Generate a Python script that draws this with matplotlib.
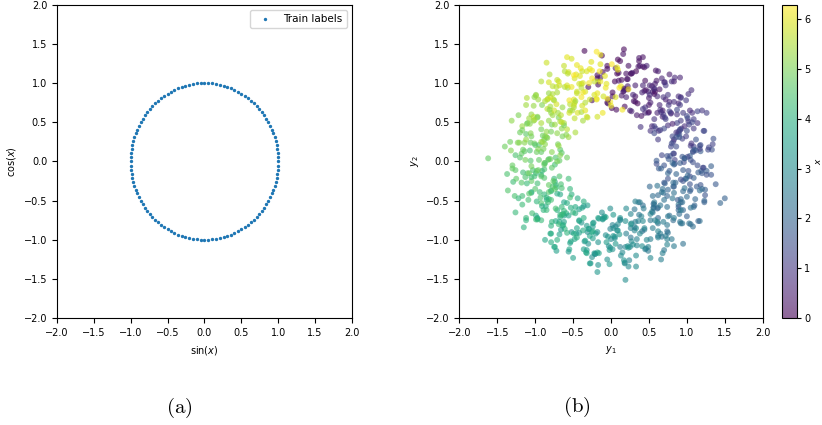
"""
Train labels on the unit circle and noisy samples coloured by x.
"""

import matplotlib
matplotlib.use('Agg')
import matplotlib.pyplot as plt
import numpy as np

# (a) training inputs, in degrees, evenly spaced round the circle
train_x_deg = [
    0, 3, 6, 9, 12, 15, 18, 21, 24, 27, 30, 33, 36, 39, 42, 45, 48, 51, 54, 57,
    60, 63, 66, 69, 72, 75, 78, 81, 84, 87, 90, 93, 96, 99, 102, 105, 108, 111, 114, 117,
    120, 123, 126, 129, 132, 135, 138, 141, 144, 147, 150, 153, 156, 159, 162, 165, 168, 171, 174, 177,
    180, 183, 186, 189, 192, 195, 198, 201, 204, 207, 210, 213, 216, 219, 222, 225, 228, 231, 234, 237,
    240, 243, 246, 249, 252, 255, 258, 261, 264, 267, 270, 273, 276, 279, 282, 285, 288, 291, 294, 297,
    300, 303, 306, 309, 312, 315, 318, 321, 324, 327, 330, 333, 336, 339, 342, 345, 348, 351, 354, 357,
]

# (b) samples: y1, y2 and the x used for colour
y1_a = [
    0.05, -0.18, 0.22, -0.05, 0.12, -0.30, 0.33, 0.02, -0.12, 0.18, -0.25, 0.08,
    0.14, 0.32, -0.05, 0.45, 0.07, 0.23, -0.18, 0.37, 0.17, 0.02, 0.57, 0.10,
    0.44, 0.26, 0.59, 0.14, 0.37, 0.50, 0.06, 0.32, 0.64, 0.22, 0.40, -0.04,
    0.55, 0.32, 0.72, 0.45, 0.62, 0.20, 0.83, 0.52, 0.38, 0.68, 0.25, 0.58,
    0.61, 0.79, 0.42, 0.92, 0.54, 0.70, 0.29, 0.84, 0.64, 0.49, 1.04, 0.57,
    0.87, 0.69, 1.02, 0.57, 0.80, 0.93, 0.49, 0.75, 1.07, 0.65, 0.83, 0.39,
    0.92, 0.69, 1.09, 0.82, 0.99, 0.57, 1.20, 0.89, 0.75, 1.05, 0.62, 0.95,
    0.91, 1.09, 0.72, 1.22, 0.84, 1.00, 0.59, 1.14, 0.94, 0.79, 1.34, 0.87,
    1.08, 0.90, 1.23, 0.78, 1.01, 1.14, 0.70, 0.96, 1.28, 0.86, 1.04, 0.60,
    1.05, 0.82, 1.22, 0.95, 1.12, 0.70, 1.33, 1.02, 0.88, 1.18, 0.75, 1.08,
    0.95, 1.13, 0.76, 1.26, 0.88, 1.04, 0.63, 1.18, 0.98, 0.83, 1.38, 0.91,
    1.04, 0.86, 1.19, 0.74, 0.97, 1.10, 0.66, 0.92, 1.24, 0.82, 1.00, 0.56,
    0.92, 0.69, 1.09, 0.82, 0.99, 0.57, 1.20, 0.89, 0.75, 1.05, 0.62, 0.95,
    0.74, 0.92, 0.55, 1.05, 0.67, 0.83, 0.42, 0.97, 0.77, 0.62, 1.17, 0.70,
    0.74, 0.56, 0.89, 0.44, 0.67, 0.80, 0.36, 0.62, 0.94, 0.52, 0.70, 0.26,
    0.55, 0.32, 0.72, 0.45, 0.62, 0.20, 0.83, 0.52, 0.38, 0.68, 0.25, 0.58,
    0.31, 0.49, 0.12, 0.62, 0.24, 0.40, -0.01, 0.54, 0.34, 0.19, 0.74, 0.27,
    0.27, 0.09, 0.42, -0.03, 0.20, 0.33, -0.11, 0.15, 0.47, 0.05, 0.23, -0.21,
    0.05, -0.18, 0.22, -0.05, 0.12, -0.30, 0.33, 0.02, -0.12, 0.18, -0.25, 0.08,
    -0.20, -0.02, -0.39, 0.11, -0.27, -0.11, -0.52, 0.03, -0.17, -0.32, 0.23, -0.24,
    -0.24, -0.42, -0.09, -0.54, -0.31, -0.18, -0.62, -0.36, -0.04, -0.46, -0.28, -0.72,
    -0.45, -0.68, -0.28, -0.55, -0.38, -0.80, -0.17, -0.48, -0.62, -0.32, -0.75, -0.42,
    -0.67, -0.49, -0.86, -0.36, -0.74, -0.58, -0.99, -0.44, -0.64, -0.79, -0.24, -0.71,
    -0.67, -0.85, -0.52, -0.97, -0.74, -0.61, -1.05, -0.79, -0.47, -0.89, -0.71, -1.15,
    -0.82, -1.05, -0.65, -0.92, -0.75, -1.17, -0.54, -0.85, -0.99, -0.69, -1.12, -0.79,
    -0.97, -0.79, -1.16, -0.66, -1.04, -0.88, -1.29, -0.74, -0.94, -1.09, -0.54, -1.01,
    -0.88, -1.06, -0.73, -1.18, -0.95, -0.82, -1.26, -1.00, -0.68, -1.10, -0.92, -1.36,
    -0.95, -1.18, -0.78, -1.05, -0.88, -1.30, -0.67, -0.98, -1.12, -0.82, -1.25, -0.92,
    -1.01, -0.83, -1.20, -0.70, -1.08, -0.92, -1.33, -0.78, -0.98, -1.13, -0.58, -1.05,
    -0.84, -1.02, -0.69, -1.14, -0.91, -0.78, -1.22, -0.96, -0.64, -1.06, -0.88, -1.32,
    -0.82, -1.05, -0.65, -0.92, -0.75, -1.17, -0.54, -0.85, -0.99, -0.69, -1.12, -0.79,
    -0.80, -0.62, -0.99, -0.49, -0.87, -0.71, -1.12, -0.57, -0.77, -0.92, -0.37, -0.84,
    -0.54, -0.72, -0.39, -0.84, -0.61, -0.48, -0.92, -0.66, -0.34, -0.76, -0.58, -1.02,
    -0.45, -0.68, -0.28, -0.55, -0.38, -0.80, -0.17, -0.48, -0.62, -0.32, -0.75, -0.42,
    -0.37, -0.19, -0.56, -0.06, -0.44, -0.28, -0.69, -0.14, -0.34, -0.49, 0.06, -0.41,
    -0.07, -0.25, 0.08, -0.37, -0.14, -0.01, -0.45, -0.19, 0.13, -0.29, -0.11, -0.55,
    -1.62, 0.19, -0.18, 1.50, 1.44, 0.17, 0.42, -0.35, -0.58, -0.85, -1.26, 0.91,
]
y2_a = [
    1.02, 1.10, 0.92, 0.75, 1.28, 0.95, 1.15, 0.88, 1.35, 0.70, 0.78, 1.12,
    1.04, 0.83, 1.18, 1.03, 0.66, 1.22, 1.06, 1.28, 0.93, 0.83, 0.86, 1.13,
    0.90, 1.12, 1.16, 0.84, 1.32, 0.72, 1.19, 0.76, 0.92, 0.96, 0.58, 0.74,
    0.89, 0.97, 0.79, 0.62, 1.15, 0.82, 1.02, 0.75, 1.22, 0.57, 0.65, 0.99,
    0.83, 0.62, 0.97, 0.82, 0.45, 1.01, 0.85, 1.07, 0.72, 0.62, 0.65, 0.92,
    0.60, 0.82, 0.86, 0.54, 1.02, 0.42, 0.89, 0.46, 0.62, 0.66, 0.28, 0.44,
    0.52, 0.60, 0.42, 0.25, 0.78, 0.45, 0.65, 0.38, 0.85, 0.20, 0.28, 0.62,
    0.40, 0.19, 0.54, 0.39, 0.02, 0.58, 0.42, 0.64, 0.29, 0.19, 0.22, 0.49,
    0.13, 0.35, 0.39, 0.07, 0.55, -0.05, 0.42, -0.01, 0.15, 0.19, -0.19, -0.03,
    0.02, 0.10, -0.08, -0.25, 0.28, -0.05, 0.15, -0.12, 0.35, -0.30, -0.22, 0.12,
    -0.11, -0.32, 0.03, -0.12, -0.49, 0.07, -0.09, 0.13, -0.22, -0.32, -0.29, -0.02,
    -0.38, -0.16, -0.12, -0.44, 0.04, -0.56, -0.09, -0.52, -0.36, -0.32, -0.70, -0.54,
    -0.48, -0.40, -0.58, -0.75, -0.22, -0.55, -0.35, -0.62, -0.15, -0.80, -0.72, -0.38,
    -0.58, -0.79, -0.44, -0.59, -0.96, -0.40, -0.56, -0.34, -0.69, -0.79, -0.76, -0.49,
    -0.81, -0.59, -0.55, -0.87, -0.39, -0.99, -0.52, -0.95, -0.79, -0.75, -1.13, -0.97,
    -0.85, -0.77, -0.95, -1.12, -0.59, -0.92, -0.72, -0.99, -0.52, -1.17, -1.09, -0.75,
    -0.88, -1.09, -0.74, -0.89, -1.26, -0.70, -0.86, -0.64, -0.99, -1.09, -1.06, -0.79,
    -1.02, -0.80, -0.76, -1.08, -0.60, -1.20, -0.73, -1.16, -1.00, -0.96, -1.34, -1.18,
    -0.98, -0.90, -1.08, -1.25, -0.72, -1.05, -0.85, -1.12, -0.65, -1.30, -1.22, -0.88,
    -0.92, -1.13, -0.78, -0.93, -1.30, -0.74, -0.90, -0.68, -1.03, -1.13, -1.10, -0.83,
    -0.98, -0.76, -0.72, -1.04, -0.56, -1.16, -0.69, -1.12, -0.96, -0.92, -1.30, -1.14,
    -0.85, -0.77, -0.95, -1.12, -0.59, -0.92, -0.72, -0.99, -0.52, -1.17, -1.09, -0.75,
    -0.71, -0.92, -0.57, -0.72, -1.09, -0.53, -0.69, -0.47, -0.82, -0.92, -0.89, -0.62,
    -0.68, -0.46, -0.42, -0.74, -0.26, -0.86, -0.39, -0.82, -0.66, -0.62, -1.00, -0.84,
    -0.48, -0.40, -0.58, -0.75, -0.22, -0.55, -0.35, -0.62, -0.15, -0.80, -0.72, -0.38,
    -0.28, -0.49, -0.14, -0.29, -0.66, -0.10, -0.26, -0.04, -0.39, -0.49, -0.46, -0.19,
    -0.21, 0.01, 0.05, -0.27, 0.21, -0.39, 0.08, -0.35, -0.19, -0.15, -0.53, -0.37,
    0.02, 0.10, -0.08, -0.25, 0.28, -0.05, 0.15, -0.12, 0.35, -0.30, -0.22, 0.12,
    0.23, 0.02, 0.37, 0.22, -0.15, 0.41, 0.25, 0.47, 0.12, 0.02, 0.05, 0.32,
    0.30, 0.52, 0.56, 0.24, 0.72, 0.12, 0.59, 0.16, 0.32, 0.36, -0.02, 0.14,
    0.52, 0.60, 0.42, 0.25, 0.78, 0.45, 0.65, 0.38, 0.85, 0.20, 0.28, 0.62,
    0.70, 0.49, 0.84, 0.69, 0.32, 0.88, 0.72, 0.94, 0.59, 0.49, 0.52, 0.79,
    0.73, 0.95, 0.99, 0.67, 1.15, 0.55, 1.02, 0.59, 0.75, 0.79, 0.41, 0.57,
    0.89, 0.97, 0.79, 0.62, 1.15, 0.82, 1.02, 0.75, 1.22, 0.57, 0.65, 0.99,
    1.00, 0.79, 1.14, 0.99, 0.62, 1.18, 1.02, 1.24, 0.89, 0.79, 0.82, 1.09,
    0.94, 1.16, 1.20, 0.88, 1.36, 0.76, 1.23, 0.80, 0.96, 1.00, 0.62, 0.78,
    0.04, -1.51, -1.41, -0.47, -0.53, 1.43, 1.33, 1.41, 1.33, 1.26, -0.65, 1.07,
]
x_a = [
    0.06, 0.09, 0.02, 0.11, 0.04, 0.12, 0.01, 0.07, 0.00, 0.10, 0.05, 0.08,
    0.17, 0.20, 0.13, 0.22, 0.15, 0.23, 0.12, 0.18, 0.11, 0.21, 0.16, 0.19,
    0.35, 0.38, 0.31, 0.40, 0.33, 0.41, 0.30, 0.36, 0.29, 0.39, 0.34, 0.37,
    0.52, 0.55, 0.48, 0.57, 0.50, 0.58, 0.47, 0.53, 0.46, 0.56, 0.51, 0.54,
    0.70, 0.73, 0.66, 0.75, 0.68, 0.76, 0.65, 0.71, 0.64, 0.74, 0.69, 0.72,
    0.87, 0.90, 0.83, 0.92, 0.85, 0.93, 0.82, 0.88, 0.81, 0.91, 0.86, 0.89,
    1.05, 1.08, 1.01, 1.10, 1.03, 1.11, 1.00, 1.06, 0.99, 1.09, 1.04, 1.07,
    1.22, 1.25, 1.18, 1.27, 1.20, 1.28, 1.17, 1.23, 1.16, 1.26, 1.21, 1.24,
    1.40, 1.43, 1.36, 1.45, 1.38, 1.46, 1.35, 1.41, 1.34, 1.44, 1.39, 1.42,
    1.57, 1.60, 1.53, 1.62, 1.55, 1.63, 1.52, 1.58, 1.51, 1.61, 1.56, 1.59,
    1.75, 1.78, 1.71, 1.80, 1.73, 1.81, 1.70, 1.76, 1.69, 1.79, 1.74, 1.77,
    1.92, 1.95, 1.88, 1.97, 1.90, 1.98, 1.87, 1.93, 1.86, 1.96, 1.91, 1.94,
    2.09, 2.12, 2.05, 2.14, 2.07, 2.15, 2.04, 2.10, 2.03, 2.13, 2.08, 2.11,
    2.27, 2.30, 2.23, 2.32, 2.25, 2.33, 2.22, 2.28, 2.21, 2.31, 2.26, 2.29,
    2.44, 2.47, 2.40, 2.49, 2.42, 2.50, 2.39, 2.45, 2.38, 2.48, 2.43, 2.46,
    2.62, 2.65, 2.58, 2.67, 2.60, 2.68, 2.57, 2.63, 2.56, 2.66, 2.61, 2.64,
    2.79, 2.82, 2.75, 2.84, 2.77, 2.85, 2.74, 2.80, 2.73, 2.83, 2.78, 2.81,
    2.97, 3.00, 2.93, 3.02, 2.95, 3.03, 2.92, 2.98, 2.91, 3.01, 2.96, 2.99,
    3.14, 3.17, 3.10, 3.19, 3.12, 3.20, 3.09, 3.15, 3.08, 3.18, 3.13, 3.16,
    3.32, 3.35, 3.28, 3.37, 3.30, 3.38, 3.27, 3.33, 3.26, 3.36, 3.31, 3.34,
    3.49, 3.52, 3.45, 3.54, 3.47, 3.55, 3.44, 3.50, 3.43, 3.53, 3.48, 3.51,
    3.67, 3.70, 3.63, 3.72, 3.65, 3.73, 3.62, 3.68, 3.61, 3.71, 3.66, 3.69,
    3.84, 3.87, 3.80, 3.89, 3.82, 3.90, 3.79, 3.85, 3.78, 3.88, 3.83, 3.86,
    4.01, 4.04, 3.97, 4.06, 3.99, 4.07, 3.96, 4.02, 3.95, 4.05, 4.00, 4.03,
    4.19, 4.22, 4.15, 4.24, 4.17, 4.25, 4.14, 4.20, 4.13, 4.23, 4.18, 4.21,
    4.36, 4.39, 4.32, 4.41, 4.34, 4.42, 4.31, 4.37, 4.30, 4.40, 4.35, 4.38,
    4.54, 4.57, 4.50, 4.59, 4.52, 4.60, 4.49, 4.55, 4.48, 4.58, 4.53, 4.56,
    4.71, 4.74, 4.67, 4.76, 4.69, 4.77, 4.66, 4.72, 4.65, 4.75, 4.70, 4.73,
    4.89, 4.92, 4.85, 4.94, 4.87, 4.95, 4.84, 4.90, 4.83, 4.93, 4.88, 4.91,
    5.06, 5.09, 5.02, 5.11, 5.04, 5.12, 5.01, 5.07, 5.00, 5.10, 5.05, 5.08,
    5.24, 5.27, 5.20, 5.29, 5.22, 5.30, 5.19, 5.25, 5.18, 5.28, 5.23, 5.26,
    5.41, 5.44, 5.37, 5.46, 5.39, 5.47, 5.36, 5.42, 5.35, 5.45, 5.40, 5.43,
    5.59, 5.62, 5.55, 5.64, 5.57, 5.65, 5.54, 5.60, 5.53, 5.63, 5.58, 5.61,
    5.76, 5.79, 5.72, 5.81, 5.74, 5.82, 5.71, 5.77, 5.70, 5.80, 5.75, 5.78,
    5.93, 5.96, 5.89, 5.98, 5.91, 5.99, 5.88, 5.94, 5.87, 5.97, 5.92, 5.95,
    6.11, 6.14, 6.07, 6.16, 6.09, 6.17, 6.06, 6.12, 6.05, 6.15, 6.10, 6.13,
    4.75, 3.05, 3.30, 1.90, 1.95, 0.10, 0.25, 0.05, 6.00, 5.75, 4.20, 0.60,
]

# second batch of samples, between the first ones
y1_b = [
    0.17, -0.05, 0.27, -0.17, 0.09, 0.35, 0.01, 0.21, -0.11, 0.44,
    0.20, 0.46, -0.04, 0.36, 0.50, 0.10, 0.30, -0.14, 0.58, 0.16,
    0.50, 0.28, 0.60, 0.16, 0.42, 0.68, 0.34, 0.54, 0.22, 0.77,
    0.51, 0.77, 0.27, 0.67, 0.81, 0.41, 0.61, 0.17, 0.89, 0.47,
    0.79, 0.57, 0.89, 0.45, 0.71, 0.97, 0.63, 0.83, 0.51, 1.06,
    0.76, 1.02, 0.52, 0.92, 1.06, 0.66, 0.86, 0.42, 1.14, 0.72,
    0.99, 0.77, 1.09, 0.65, 0.91, 1.17, 0.83, 1.03, 0.71, 1.26,
    0.91, 1.17, 0.67, 1.07, 1.21, 0.81, 1.01, 0.57, 1.29, 0.87,
    1.08, 0.86, 1.18, 0.74, 1.00, 1.26, 0.92, 1.12, 0.80, 1.35,
    0.94, 1.20, 0.70, 1.10, 1.24, 0.84, 1.04, 0.60, 1.32, 0.90,
    1.05, 0.83, 1.15, 0.71, 0.97, 1.23, 0.89, 1.09, 0.77, 1.32,
    0.85, 1.11, 0.61, 1.01, 1.15, 0.75, 0.95, 0.51, 1.23, 0.81,
    0.90, 0.68, 1.00, 0.56, 0.82, 1.08, 0.74, 0.94, 0.62, 1.17,
    0.65, 0.91, 0.41, 0.81, 0.95, 0.55, 0.75, 0.31, 1.03, 0.61,
    0.65, 0.43, 0.75, 0.31, 0.57, 0.83, 0.49, 0.69, 0.37, 0.92,
    0.36, 0.62, 0.12, 0.52, 0.66, 0.26, 0.46, 0.02, 0.74, 0.32,
    0.34, 0.12, 0.44, 0.00, 0.26, 0.52, 0.18, 0.38, 0.06, 0.61,
    0.03, 0.29, -0.21, 0.19, 0.33, -0.07, 0.13, -0.31, 0.41, -0.01,
    -0.01, -0.23, 0.09, -0.35, -0.09, 0.17, -0.17, 0.03, -0.29, 0.26,
    -0.32, -0.06, -0.56, -0.16, -0.02, -0.42, -0.22, -0.66, 0.06, -0.36,
    -0.34, -0.56, -0.24, -0.68, -0.42, -0.16, -0.50, -0.30, -0.62, -0.07,
    -0.63, -0.37, -0.87, -0.47, -0.33, -0.73, -0.53, -0.97, -0.25, -0.67,
    -0.63, -0.85, -0.53, -0.97, -0.71, -0.45, -0.79, -0.59, -0.91, -0.36,
    -0.88, -0.62, -1.12, -0.72, -0.58, -0.98, -0.78, -1.22, -0.50, -0.92,
    -0.83, -1.05, -0.73, -1.17, -0.91, -0.65, -0.99, -0.79, -1.11, -0.56,
    -1.03, -0.77, -1.27, -0.87, -0.73, -1.13, -0.93, -1.37, -0.65, -1.07,
    -0.92, -1.14, -0.82, -1.26, -1.00, -0.74, -1.08, -0.88, -1.20, -0.65,
    -1.06, -0.80, -1.30, -0.90, -0.76, -1.16, -0.96, -1.40, -0.68, -1.10,
    -0.89, -1.11, -0.79, -1.23, -0.97, -0.71, -1.05, -0.85, -1.17, -0.62,
    -0.97, -0.71, -1.21, -0.81, -0.67, -1.07, -0.87, -1.31, -0.59, -1.01,
    -0.74, -0.96, -0.64, -1.08, -0.82, -0.56, -0.90, -0.70, -1.02, -0.47,
    -0.77, -0.51, -1.01, -0.61, -0.47, -0.87, -0.67, -1.11, -0.39, -0.81,
    -0.49, -0.71, -0.39, -0.83, -0.57, -0.31, -0.65, -0.45, -0.77, -0.22,
    -0.48, -0.22, -0.72, -0.32, -0.18, -0.58, -0.38, -0.82, -0.10, -0.52,
    -0.18, -0.40, -0.08, -0.52, -0.26, 0.00, -0.34, -0.14, -0.46, 0.09,
    -0.15, 0.11, -0.39, 0.01, 0.15, -0.25, -0.05, -0.49, 0.23, -0.19,
]
y2_b = [
    0.90, 1.22, 1.12, 0.98, 1.30, 0.74, 0.68, 1.05, 1.14, 1.20,
    1.12, 0.91, 0.79, 1.21, 0.63, 1.03, 0.77, 1.07, 0.89, 1.37,
    0.81, 1.13, 1.03, 0.89, 1.21, 0.65, 0.59, 0.96, 1.05, 1.11,
    0.97, 0.76, 0.64, 1.06, 0.48, 0.88, 0.62, 0.92, 0.74, 1.22,
    0.61, 0.93, 0.83, 0.69, 1.01, 0.45, 0.39, 0.76, 0.85, 0.91,
    0.72, 0.51, 0.39, 0.81, 0.23, 0.63, 0.37, 0.67, 0.49, 0.97,
    0.32, 0.64, 0.54, 0.40, 0.72, 0.16, 0.10, 0.47, 0.56, 0.62,
    0.41, 0.20, 0.08, 0.50, -0.08, 0.32, 0.06, 0.36, 0.18, 0.66,
    -0.01, 0.31, 0.21, 0.07, 0.39, -0.17, -0.23, 0.14, 0.23, 0.29,
    0.06, -0.15, -0.27, 0.15, -0.43, -0.03, -0.29, 0.01, -0.17, 0.31,
    -0.36, -0.04, -0.14, -0.28, 0.04, -0.52, -0.58, -0.21, -0.12, -0.06,
    -0.27, -0.48, -0.60, -0.18, -0.76, -0.36, -0.62, -0.32, -0.50, -0.02,
    -0.67, -0.35, -0.45, -0.59, -0.27, -0.83, -0.89, -0.52, -0.43, -0.37,
    -0.56, -0.77, -0.89, -0.47, -1.05, -0.65, -0.91, -0.61, -0.79, -0.31,
    -0.92, -0.60, -0.70, -0.84, -0.52, -1.08, -1.14, -0.77, -0.68, -0.62,
    -0.76, -0.97, -1.09, -0.67, -1.25, -0.85, -1.11, -0.81, -0.99, -0.51,
    -1.07, -0.75, -0.85, -0.99, -0.67, -1.23, -1.29, -0.92, -0.83, -0.77,
    -0.85, -1.06, -1.18, -0.76, -1.34, -0.94, -1.20, -0.90, -1.08, -0.60,
    -1.10, -0.78, -0.88, -1.02, -0.70, -1.26, -1.32, -0.95, -0.86, -0.80,
    -0.82, -1.03, -1.15, -0.73, -1.31, -0.91, -1.17, -0.87, -1.05, -0.57,
    -1.01, -0.69, -0.79, -0.93, -0.61, -1.17, -1.23, -0.86, -0.77, -0.71,
    -0.67, -0.88, -1.00, -0.58, -1.16, -0.76, -1.02, -0.72, -0.90, -0.42,
    -0.81, -0.49, -0.59, -0.73, -0.41, -0.97, -1.03, -0.66, -0.57, -0.51,
    -0.42, -0.63, -0.75, -0.33, -0.91, -0.51, -0.77, -0.47, -0.65, -0.17,
    -0.52, -0.20, -0.30, -0.44, -0.12, -0.68, -0.74, -0.37, -0.28, -0.22,
    -0.11, -0.32, -0.44, -0.02, -0.60, -0.20, -0.46, -0.16, -0.34, 0.14,
    -0.19, 0.13, 0.03, -0.11, 0.21, -0.35, -0.41, -0.04, 0.05, 0.11,
    0.24, 0.03, -0.09, 0.33, -0.25, 0.15, -0.11, 0.19, 0.01, 0.49,
    0.16, 0.48, 0.38, 0.24, 0.56, 0.00, -0.06, 0.31, 0.40, 0.46,
    0.57, 0.36, 0.24, 0.66, 0.08, 0.48, 0.22, 0.52, 0.34, 0.82,
    0.47, 0.79, 0.69, 0.55, 0.87, 0.31, 0.25, 0.62, 0.71, 0.77,
    0.86, 0.65, 0.53, 0.95, 0.37, 0.77, 0.51, 0.81, 0.63, 1.11,
    0.72, 1.04, 0.94, 0.80, 1.12, 0.56, 0.50, 0.87, 0.96, 1.02,
    1.06, 0.85, 0.73, 1.15, 0.57, 0.97, 0.71, 1.01, 0.83, 1.31,
    0.87, 1.19, 1.09, 0.95, 1.27, 0.71, 0.65, 1.02, 1.11, 1.17,
    1.15, 0.94, 0.82, 1.24, 0.66, 1.06, 0.80, 1.10, 0.92, 1.40,
]
x_b = [
    0.09, 0.12, 0.06, 0.14, 0.04, 0.11, 0.07, 0.13, 0.05, 0.10,
    0.26, 0.29, 0.23, 0.31, 0.21, 0.28, 0.24, 0.30, 0.22, 0.27,
    0.44, 0.47, 0.41, 0.49, 0.39, 0.46, 0.42, 0.48, 0.40, 0.45,
    0.61, 0.64, 0.58, 0.66, 0.56, 0.63, 0.59, 0.65, 0.57, 0.62,
    0.79, 0.82, 0.76, 0.84, 0.74, 0.81, 0.77, 0.83, 0.75, 0.80,
    0.96, 0.99, 0.93, 1.01, 0.91, 0.98, 0.94, 1.00, 0.92, 0.97,
    1.13, 1.16, 1.10, 1.18, 1.08, 1.15, 1.11, 1.17, 1.09, 1.14,
    1.31, 1.34, 1.28, 1.36, 1.26, 1.33, 1.29, 1.35, 1.27, 1.32,
    1.48, 1.51, 1.45, 1.53, 1.43, 1.50, 1.46, 1.52, 1.44, 1.49,
    1.66, 1.69, 1.63, 1.71, 1.61, 1.68, 1.64, 1.70, 1.62, 1.67,
    1.83, 1.86, 1.80, 1.88, 1.78, 1.85, 1.81, 1.87, 1.79, 1.84,
    2.01, 2.04, 1.98, 2.06, 1.96, 2.03, 1.99, 2.05, 1.97, 2.02,
    2.18, 2.21, 2.15, 2.23, 2.13, 2.20, 2.16, 2.22, 2.14, 2.19,
    2.36, 2.39, 2.33, 2.41, 2.31, 2.38, 2.34, 2.40, 2.32, 2.37,
    2.53, 2.56, 2.50, 2.58, 2.48, 2.55, 2.51, 2.57, 2.49, 2.54,
    2.71, 2.74, 2.68, 2.76, 2.66, 2.73, 2.69, 2.75, 2.67, 2.72,
    2.88, 2.91, 2.85, 2.93, 2.83, 2.90, 2.86, 2.92, 2.84, 2.89,
    3.05, 3.08, 3.02, 3.10, 3.00, 3.07, 3.03, 3.09, 3.01, 3.06,
    3.23, 3.26, 3.20, 3.28, 3.18, 3.25, 3.21, 3.27, 3.19, 3.24,
    3.40, 3.43, 3.37, 3.45, 3.35, 3.42, 3.38, 3.44, 3.36, 3.41,
    3.58, 3.61, 3.55, 3.63, 3.53, 3.60, 3.56, 3.62, 3.54, 3.59,
    3.75, 3.78, 3.72, 3.80, 3.70, 3.77, 3.73, 3.79, 3.71, 3.76,
    3.93, 3.96, 3.90, 3.98, 3.88, 3.95, 3.91, 3.97, 3.89, 3.94,
    4.10, 4.13, 4.07, 4.15, 4.05, 4.12, 4.08, 4.14, 4.06, 4.11,
    4.28, 4.31, 4.25, 4.33, 4.23, 4.30, 4.26, 4.32, 4.24, 4.29,
    4.45, 4.48, 4.42, 4.50, 4.40, 4.47, 4.43, 4.49, 4.41, 4.46,
    4.63, 4.66, 4.60, 4.68, 4.58, 4.65, 4.61, 4.67, 4.59, 4.64,
    4.80, 4.83, 4.77, 4.85, 4.75, 4.82, 4.78, 4.84, 4.76, 4.81,
    4.97, 5.00, 4.94, 5.02, 4.92, 4.99, 4.95, 5.01, 4.93, 4.98,
    5.15, 5.18, 5.12, 5.20, 5.10, 5.17, 5.13, 5.19, 5.11, 5.16,
    5.32, 5.35, 5.29, 5.37, 5.27, 5.34, 5.30, 5.36, 5.28, 5.33,
    5.50, 5.53, 5.47, 5.55, 5.45, 5.52, 5.48, 5.54, 5.46, 5.51,
    5.67, 5.70, 5.64, 5.72, 5.62, 5.69, 5.65, 5.71, 5.63, 5.68,
    5.85, 5.88, 5.82, 5.90, 5.80, 5.87, 5.83, 5.89, 5.81, 5.86,
    6.02, 6.05, 5.99, 6.07, 5.97, 6.04, 6.00, 6.06, 5.98, 6.03,
    6.20, 6.23, 6.17, 6.25, 6.15, 6.22, 6.18, 6.24, 6.16, 6.21,
]

ticks = [-2.0, -1.5, -1.0, -0.5, 0.0, 0.5, 1.0, 1.5, 2.0]

plt.rcParams['font.size'] = 7
plt.rcParams['mathtext.fontset'] = 'dejavusans'

fig = plt.figure(figsize=(8.22, 4.25), dpi=100)
ax1 = fig.add_axes([0.0693, 0.2511, 0.3589, 0.738])
ax2 = fig.add_axes([0.5588, 0.2511, 0.3691, 0.738])
cax = fig.add_axes([0.951, 0.2511, 0.019, 0.738])

# (a) train labels
tx = np.deg2rad(train_x_deg)
ax1.scatter(np.sin(tx), np.cos(tx), s=2, color='#1f77b4', label='Train labels')
ax1.legend(loc='upper right', fontsize=7.5)
ax1.set_xlabel('sin($x$)')
ax1.set_ylabel('cos($x$)')

# (b) samples coloured by x
y1 = y1_a + y1_b
y2 = y2_a + y2_b
x_vals = x_a + x_b
sc = ax2.scatter(y1, y2, c=x_vals, cmap='viridis', vmin=0, vmax=2 * np.pi,
                 s=18, alpha=0.6, linewidths=0)
ax2.set_xlabel('$y_1$')
ax2.set_ylabel('$y_2$')

cbar = fig.colorbar(sc, cax=cax)
cbar.set_ticks([0, 1, 2, 3, 4, 5, 6])
cax.tick_params(length=3, pad=2)
cbar.set_label('$x$', fontsize=6.5)
cax.yaxis.set_label_coords(2.05, 0.5)

for ax in (ax1, ax2):
    ax.set_xlim(-2, 2)
    ax.set_ylim(-2, 2)
    ax.set_xticks(ticks)
    ax.set_yticks(ticks)

fig.text(0.2178, 0.04, r'$\mathrm{(a)}$', ha='center', va='center',
         fontsize=15, math_fontfamily='cm')
fig.text(0.702, 0.042, r'$\mathrm{(b)}$', ha='center', va='center',
         fontsize=15, math_fontfamily='cm')

plt.savefig('out.png', dpi=100)
plt.close()
